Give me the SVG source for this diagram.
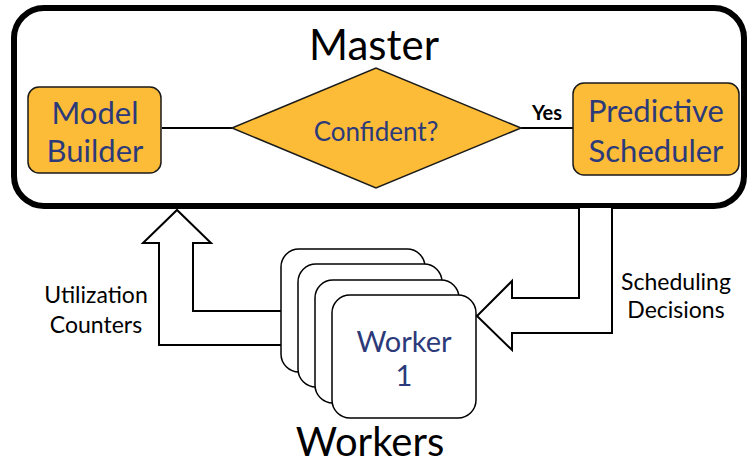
<svg xmlns="http://www.w3.org/2000/svg" width="748" height="466" viewBox="0 0 748 466">
<style>
.box{fill:#FCBC38;stroke:#1a1a1a;stroke-width:1.5}
.navy{fill:#2C3A7A;font-family:Lato,"Open Sans",sans-serif}
.blk{fill:#000;font-family:Lato,"Open Sans",sans-serif}
.wk{fill:#fff;stroke:#000;stroke-width:1.5}
.conn{fill:#fff;stroke:#000;stroke-width:2;stroke-linejoin:miter}
</style>
<rect width="748" height="466" fill="#fff"/>
<g id="master">
<rect x="14" y="8" width="730" height="198" rx="30" fill="#fff" stroke="#000" stroke-width="6"/>
<text x="374" y="60" font-size="42" text-anchor="middle" class="blk">Master</text>
</g>
<g id="connectors">
<line x1="162" y1="128" x2="232" y2="128" stroke="#000" stroke-width="2"/>
<line x1="521" y1="128" x2="596" y2="128" stroke="#000" stroke-width="2"/>
<polyline points="586,121 596,128 586,135" fill="none" stroke="#000" stroke-width="2"/>
<text x="547" y="120" font-size="20" font-weight="bold" text-anchor="middle" class="blk">Yes</text>
<path class="conn" d="M281,345 L159,345 L159,243 L143,243 L177,210 L211,243 L193,243 L193,311 L281,311"/>
<path class="conn" d="M579,208 L579,298 L512,298 L512,281 L477,316 L512,350 L512,333 L612,333 L612,208"/>
<text x="96" y="303" font-size="23" text-anchor="middle" class="blk">Utilization</text>
<text x="96" y="333" font-size="23" text-anchor="middle" class="blk">Counters</text>
<text x="676" y="290" font-size="23" text-anchor="middle" class="blk">Scheduling</text>
<text x="676" y="318" font-size="23" text-anchor="middle" class="blk">Decisions</text>
</g>
<g id="model-builder">
<rect class="box" x="28" y="87" width="133" height="86" rx="11"/>
<text x="95" y="124" font-size="31" text-anchor="middle" class="navy">Model</text>
<text x="95" y="162" font-size="31" text-anchor="middle" class="navy">Builder</text>
</g>
<g id="confident">
<polygon class="box" points="232,128 376,68 521,128 376,188" stroke-width="1"/>
<text x="376" y="141" font-size="26" text-anchor="middle" class="navy" fill="#3B4888">Confident?</text>
</g>
<g id="predictive-scheduler">
<rect class="box" x="573" y="83" width="166" height="92" rx="11"/>
<text x="656" y="122" font-size="31" text-anchor="middle" class="navy">Predictive</text>
<text x="656" y="162" font-size="31" text-anchor="middle" class="navy">Scheduler</text>
</g>
<g id="workers">
<rect class="wk" x="281" y="249" width="144" height="123" rx="18"/>
<rect class="wk" x="298" y="264" width="144" height="123" rx="18"/>
<rect class="wk" x="315" y="280" width="144" height="123" rx="18"/>
<rect class="wk" x="332" y="295" width="144" height="123" rx="18"/>
<text x="404" y="352" font-size="29" text-anchor="middle" class="navy">Worker</text>
<text x="404" y="386" font-size="29" text-anchor="middle" class="navy">1</text>
<text x="370" y="456" font-size="40" text-anchor="middle" class="blk">Workers</text>
</g>
</svg>
